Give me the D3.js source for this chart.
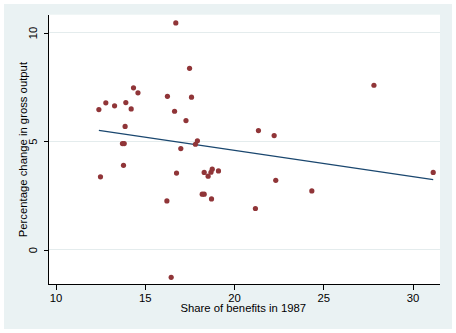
<!DOCTYPE html>
<html>
<head>
<meta charset="utf-8">
<script src="https://cdn.jsdelivr.net/npm/d3@7/dist/d3.min.js"></script>
<style>
  html, body { margin: 0; padding: 0; background: #ffffff; }
  svg { display: block; }
  text { font-family: "Liberation Sans", Arial, Helvetica, sans-serif; fill: #000; }
</style>
</head>
<body>
<svg id="chart" width="456" height="333"></svg>
<script>
// Share of benefits in 1987 (x) and percentage change in gross output (y)
const shareBenefits = [
  12.43, 12.52, 12.82, 13.31, 13.94, 13.90, 13.75, 13.85, 13.81, 14.24,
  14.37, 14.62, 16.27, 16.24, 16.67, 16.74, 16.48, 16.78, 17.02, 17.31,
  17.51, 17.62, 17.84, 17.95, 18.33, 18.22, 18.33, 18.55, 18.71, 18.78,
  18.74, 19.13, 21.20, 21.37, 22.25, 22.34, 24.36, 27.84, 31.16
];
const outputChange = [
  6.45, 3.35, 6.76, 6.62, 6.77, 5.67, 4.88, 4.88, 3.88, 6.48,
  7.45, 7.22, 7.06, 2.24, 6.37, 10.44, -1.28, 3.52, 4.65, 5.94,
  8.35, 7.02, 4.85, 5.01, 3.55, 2.55, 2.55, 3.38, 3.56, 3.70,
  2.33, 3.62, 1.89, 5.48, 5.25, 3.19, 2.70, 7.57, 3.55
];
const xTicks = [10, 15, 20, 25, 30];
const yTicks = [0, 5, 10];
const xTitle = "Share of benefits in 1987";
const yTitle = "Percentage change in gross output";

const svg = d3.select("#chart");

// graph region and plot region
const plot = { left: 48.5, right: 440, top: 14.7, bottom: 284.5 };
svg.append("rect").attr("x", 0).attr("y", 0).attr("width", 456).attr("height", 333).attr("fill", "#ffffff");
svg.append("rect").attr("x", 4).attr("y", 4).attr("width", 448).attr("height", 325).attr("fill", "#eaf2f3");
svg.append("rect").attr("x", plot.left).attr("y", plot.top)
  .attr("width", plot.right - plot.left).attr("height", plot.bottom - plot.top)
  .attr("fill", "#ffffff");

const x = d3.scaleLinear().domain([10, 30]).range([55.5, 412.5]);
const y = d3.scaleLinear().domain([0, 10]).range([249.5, 32.5]);

// horizontal grid lines
svg.append("g").selectAll("line").data(yTicks).join("line")
  .attr("x1", plot.left).attr("x2", plot.right)
  .attr("y1", d => y(d)).attr("y2", d => y(d))
  .attr("stroke", "#e4eced").attr("stroke-width", 1)
  .attr("shape-rendering", "crispEdges");

// x axis
const xAxis = svg.append("g").attr("transform", `translate(0,${plot.bottom})`)
  .call(d3.axisBottom(x).tickValues(xTicks).tickSize(5).tickPadding(4).tickFormat(d3.format("d")));
xAxis.select(".domain").remove();
xAxis.selectAll(".tick line").attr("stroke", "#000").attr("shape-rendering", "crispEdges");
xAxis.selectAll(".tick text").attr("font-size", "11.3px").attr("font-family", null)
  .attr("dy", null).attr("y", 17);
svg.append("line").attr("x1", plot.left - 0.5).attr("x2", plot.right)
  .attr("y1", plot.bottom).attr("y2", plot.bottom)
  .attr("stroke", "#000").attr("stroke-width", 1).attr("shape-rendering", "crispEdges");

// y axis
const yAxis = svg.append("g").attr("transform", `translate(${plot.left},0)`)
  .call(d3.axisLeft(y).tickValues(yTicks).tickSize(5).tickFormat(d3.format("d")));
yAxis.select(".domain").remove();
yAxis.selectAll(".tick line").attr("stroke", "#000").attr("shape-rendering", "crispEdges");
yAxis.selectAll(".tick text")
  .attr("font-size", "11.3px").attr("font-family", null)
  .attr("x", null).attr("dy", null)
  .attr("text-anchor", "middle")
  .attr("transform", "translate(-11.2,0) rotate(-90)");
svg.append("line").attr("x1", plot.left).attr("x2", plot.left)
  .attr("y1", plot.top).attr("y2", plot.bottom + 0.5)
  .attr("stroke", "#000").attr("stroke-width", 1).attr("shape-rendering", "crispEdges");

// axis titles
svg.append("text").attr("x", (plot.left + plot.right) / 2 - 1).attr("y", 312)
  .attr("text-anchor", "middle").attr("font-size", "11.3px").text(xTitle);
svg.append("text")
  .attr("transform", `translate(26.7,${(plot.top + plot.bottom) / 2}) rotate(-90)`)
  .attr("text-anchor", "middle").attr("font-size", "11.3px").text(yTitle);

// least-squares fitted line
const n = shareBenefits.length;
const mx = d3.mean(shareBenefits), my = d3.mean(outputChange);
let sxy = 0, sxx = 0;
for (let i = 0; i < n; i++) {
  sxy += (shareBenefits[i] - mx) * (outputChange[i] - my);
  sxx += (shareBenefits[i] - mx) ** 2;
}
const slope = sxy / sxx, intercept = my - slope * mx;
const [xmin, xmax] = d3.extent(shareBenefits);
const fit = [xmin, xmax].map(v => [v, intercept + slope * v]);
svg.append("path")
  .attr("d", d3.line().x(d => x(d[0])).y(d => y(d[1]))(fit))
  .attr("fill", "none").attr("stroke", "#1a476f").attr("stroke-width", 1.2);

// scatter markers
svg.append("g").selectAll("circle").data(d3.range(n)).join("circle")
  .attr("cx", i => x(shareBenefits[i]))
  .attr("cy", i => y(outputChange[i]))
  .attr("r", 2.6)
  .attr("fill", "#903538");
</script>
</body>
</html>
